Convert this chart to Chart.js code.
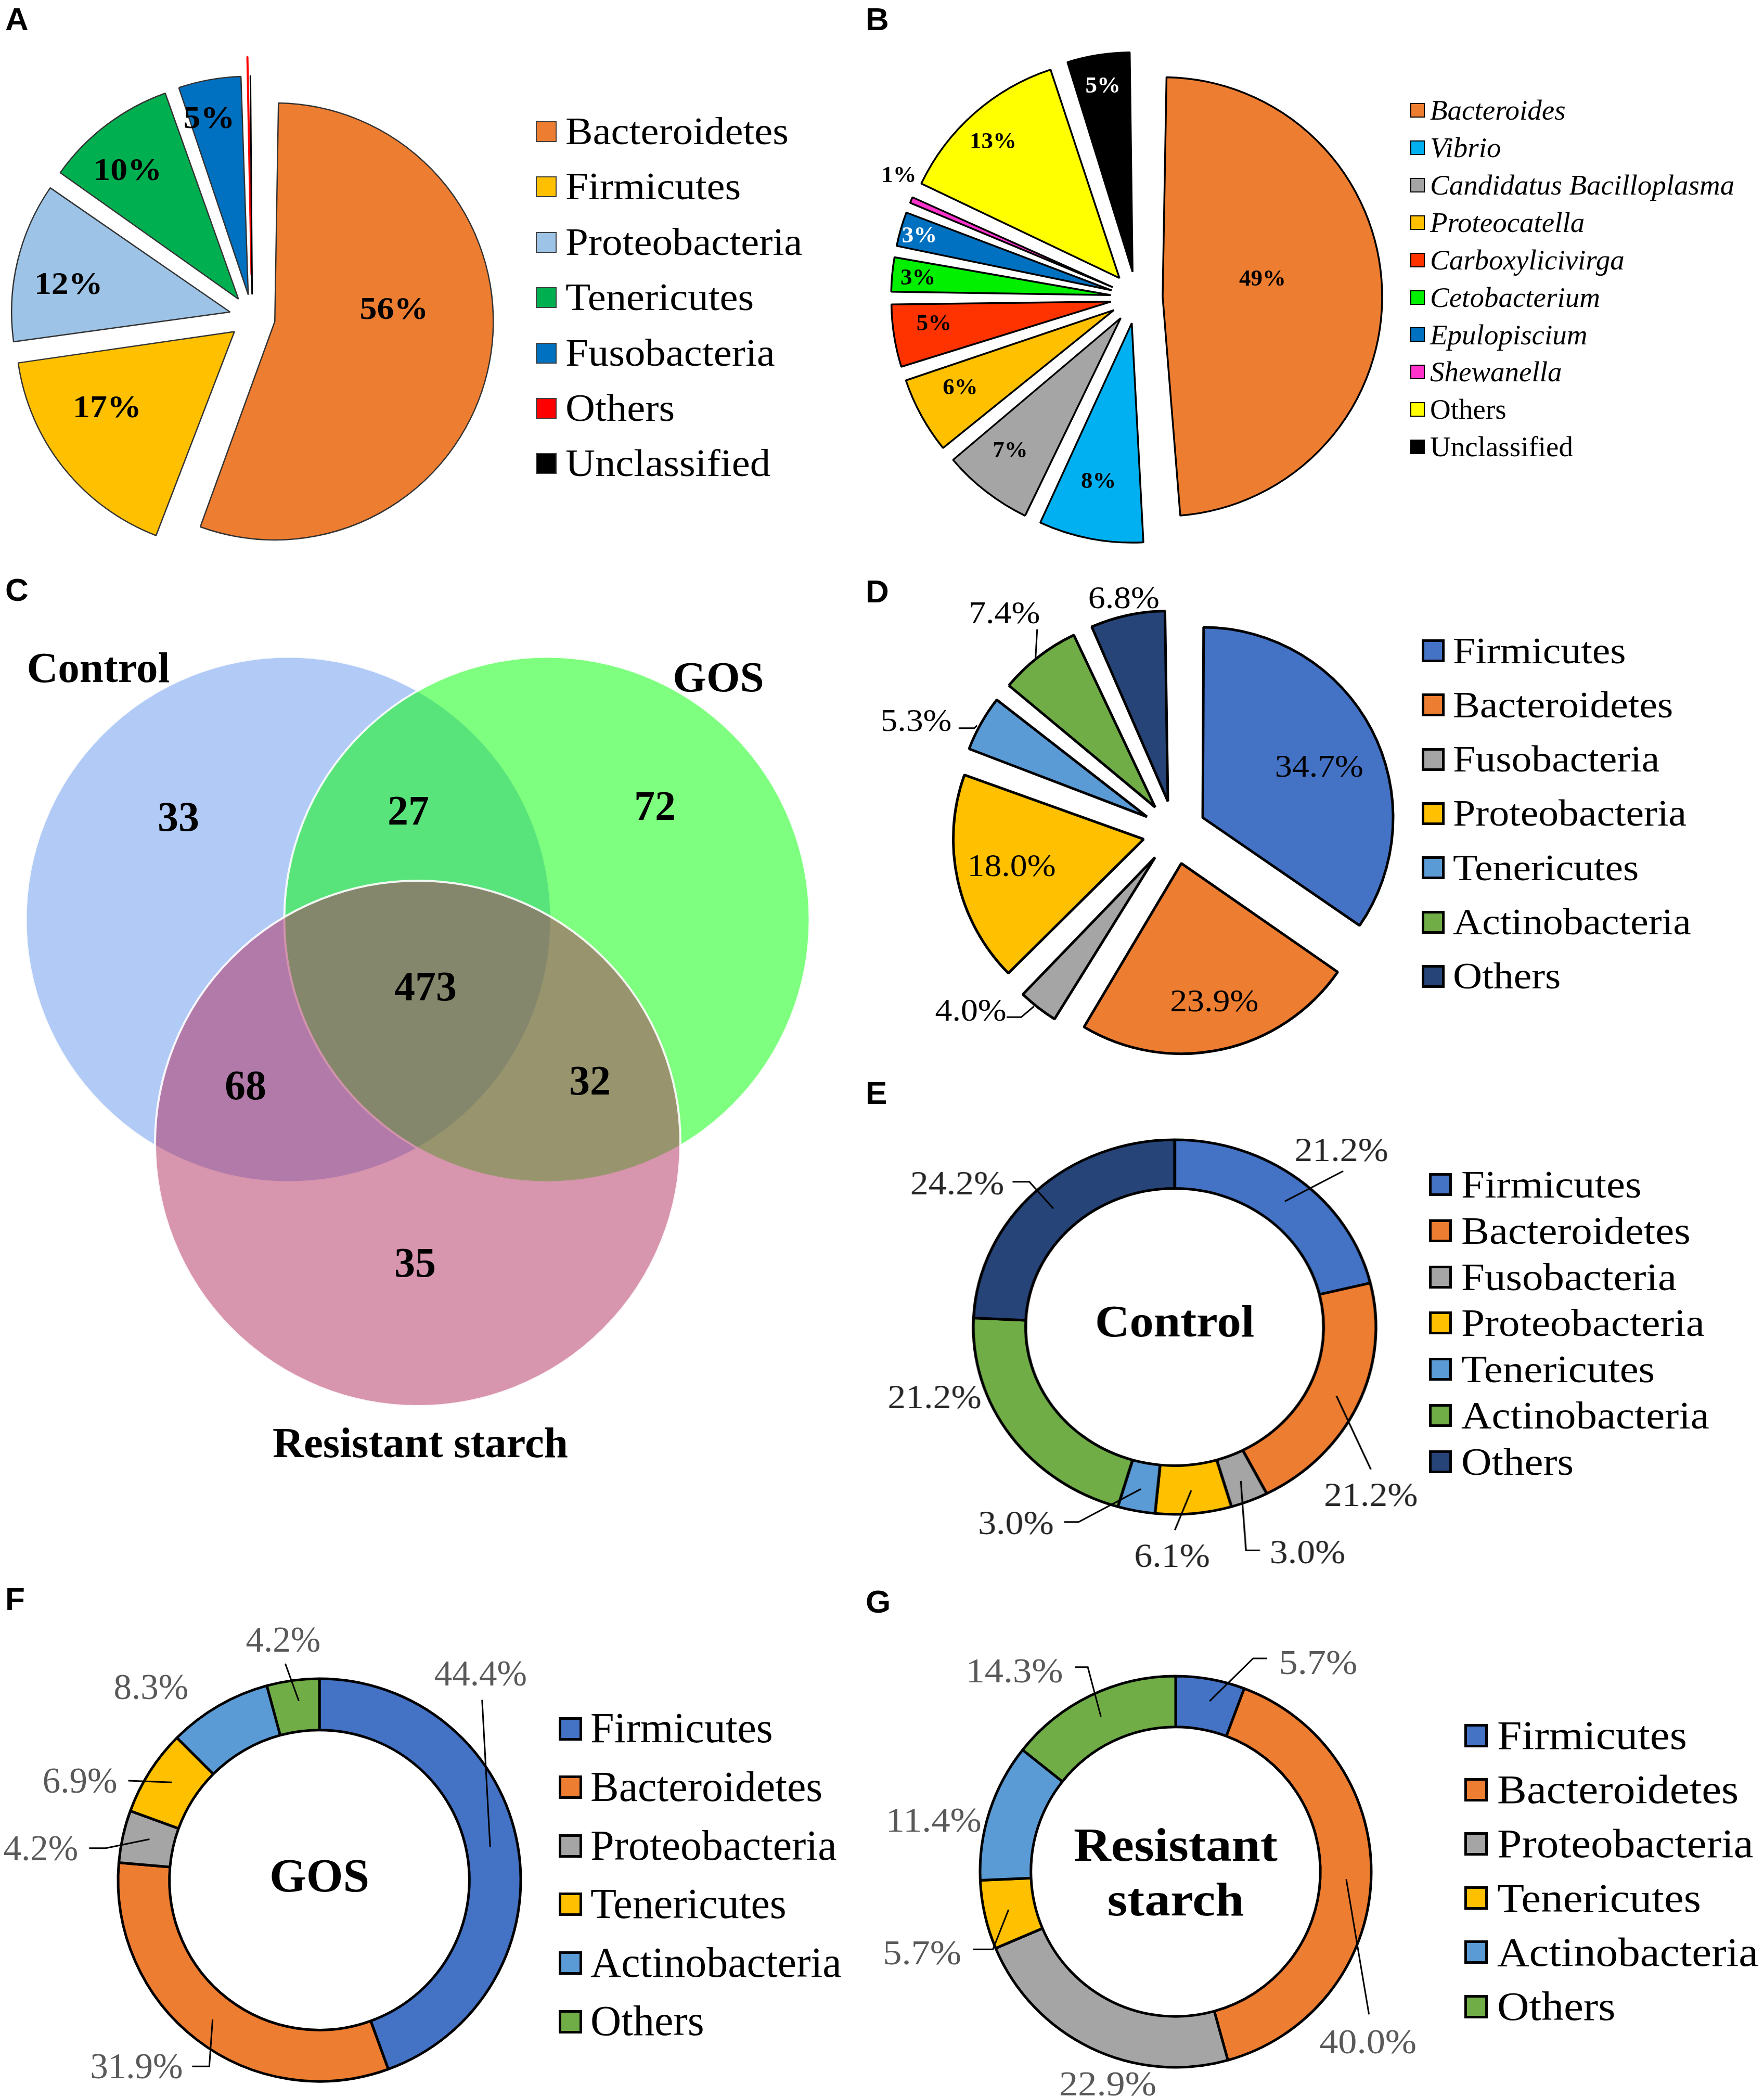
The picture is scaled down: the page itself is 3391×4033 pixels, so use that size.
<!DOCTYPE html>
<html><head><meta charset="utf-8">
<script src="https://cdn.jsdelivr.net/npm/chart.js@4.4.1/dist/chart.umd.min.js"></script>
<style>
html,body{margin:0;padding:0;background:#fff;}
body{width:3391px;height:4033px;position:relative;overflow:hidden;}
canvas{position:absolute;}
.t{position:absolute;white-space:nowrap;line-height:1;z-index:5;}
.box{position:absolute;box-sizing:border-box;z-index:5;}
</style></head><body>
<script>
// ================= DATA =================
// Panel A – phylum level (%)
const phylaA  = ['Bacteroidetes','Firmicutes','Proteobacteria','Tenericutes','Fusobacteria','Others','Unclassified'];
const valuesA = [56, 17, 12, 10, 5, 0.1, 0.25];
const colorsA = ['#ED7D31','#FFC000','#9DC3E6','#00B050','#0070C0','#FF0000','#000000'];

// Panel B – genus level (%)
const generaB = ['Bacteroides','Vibrio','Candidatus Bacilloplasma','Proteocatella','Carboxylicivirga','Cetobacterium','Epulopiscium','Shewanella','Others','Unclassified'];
const valuesB = [49, 8, 7, 6, 5, 3, 3, 1, 13, 5];
const colorsB = ['#ED7D31','#00B0F0','#A5A5A5','#FFC000','#FF3300','#00F000','#0070C0','#FF33CC','#FFFF00','#000000'];
const italicB = [true,true,true,true,true,true,true,true,false,false];

// Panel C – Venn diagram counts
const vennSets    = ['Control','GOS','Resistant starch'];
const vennRegions = ['Control only','Control & GOS','GOS only','All three','Control & Resistant starch','GOS & Resistant starch','Resistant starch only'];
const vennCounts  = [33, 27, 72, 473, 68, 32, 35];
const vennColors  = ['rgba(100,149,237,0.5)','rgba(0,255,0,0.5)','rgba(177,43,93,0.5)'];

// Panels D/E – phyla
const phylaDE  = ['Firmicutes','Bacteroidetes','Fusobacteria','Proteobacteria','Tenericutes','Actinobacteria','Others'];
const valuesD  = [34.7, 23.9, 4.0, 18.0, 5.3, 7.4, 6.8];
const valuesE  = [21.2, 21.2, 3.0, 6.1, 3.0, 21.2, 24.2];
const colorsDE = ['#4472C4','#ED7D31','#A5A5A5','#FFC000','#5B9BD5','#70AD47','#264478'];

// Panels F/G – phyla
const phylaFG  = ['Firmicutes','Bacteroidetes','Proteobacteria','Tenericutes','Actinobacteria','Others'];
const valuesF  = [44.4, 31.9, 4.2, 6.9, 8.3, 4.2];
const valuesG  = [5.7, 40.0, 22.9, 5.7, 11.4, 14.3];
const colorsFG = ['#4472C4','#ED7D31','#A5A5A5','#FFC000','#5B9BD5','#70AD47'];

// ================= HELPERS =================
const SERIF = "'Liberation Serif','Times New Roman',serif";
const SANS  = "'Liberation Sans',Arial,sans-serif";

function drawText(ctx, txt, x, y, o) {
  ctx.save();
  ctx.font = (o.italic ? 'italic ' : '') + (o.bold ? 'bold ' : '') + o.size + 'px ' + SERIF;
  ctx.fillStyle = o.color || '#000';
  ctx.textAlign = 'center';
  ctx.textBaseline = 'alphabetic';
  ctx.translate(x, y);
  ctx.scale(o.k || 1, 1);
  ctx.fillText(txt, 0, 0.331 * o.size);
  ctx.restore();
}

function addText(txt, x, yC, o) {
  const d = document.createElement('div');
  d.className = 't';
  d.textContent = txt;
  d.style.fontFamily = o.family || SERIF;
  d.style.fontSize = o.size + 'px';
  d.style.fontWeight = o.bold ? 'bold' : 'normal';
  d.style.fontStyle = o.italic ? 'italic' : 'normal';
  d.style.color = o.color || '#000';
  d.style.left = x + 'px';
  d.style.top = (yC - o.size * (o.cc || 0.5065)) + 'px';
  if (o.k && o.k !== 1) { d.style.transform = 'scaleX(' + o.k + ')'; d.style.transformOrigin = 'left center'; }
  document.body.appendChild(d);
}

function buildLegend(names, colors, L) {
  names.forEach((n, i) => {
    const yc = L.y0 + i * L.dy;
    const b = document.createElement('div');
    b.className = 'box';
    b.style.left = L.boxX + 'px';
    b.style.top = (yc - L.box / 2) + 'px';
    b.style.width = L.box + 'px';
    b.style.height = L.box + 'px';
    b.style.background = colors[i];
    b.style.border = L.bw + 'px solid ' + L.bc;
    document.body.appendChild(b);
    addText(n, L.textX, yc, {size: L.size, k: L.k, italic: L.italic ? L.italic[i] : false});
  });
}

function makeCanvas(left, top, w, h, extra) {
  const c = document.createElement('canvas');
  c.width = w; c.height = h;
  c.style.left = left + 'px'; c.style.top = top + 'px';
  c.style.width = w + 'px'; c.style.height = h + 'px';
  if (extra) Object.assign(c.style, extra);
  document.body.appendChild(c);
  return c;
}

// plugin factory: exploded-slice radius fix + slice labels / leader lines / centre text
function labelPlugin(spec) {
  return {
    id: 'sliceLabels',
    beforeDatasetDraw(chart, args) {
      const meta = args.meta;
      const base = meta.controller.outerRadius;
      meta.data.forEach(arc => {
        const off = (arc.options.offset || 0) / 4;
        if (off) {
          const fix = 1 - Math.sin(Math.min(Math.PI, arc.circumference || 0));
          arc.outerRadius = base - off * fix;
        }
      });
    },
    afterDatasetsDraw(chart) {
      const meta = chart.getDatasetMeta(0);
      const R = meta.controller.outerRadius;
      const ctx = chart.ctx;
      const vals = chart.data.datasets[0].data;
      spec.items.forEach((s, i) => {
        if (!s) return;
        const arc = meta.data[i];
        const mid = (arc.startAngle + arc.endAngle) / 2;
        const pol = (r, da) => {
          const a = mid + da * Math.PI / 180;
          return [arc.x + r * R * Math.cos(a), arc.y + r * R * Math.sin(a)];
        };
        const [x, y] = pol(s.r, s.da || 0);
        if (s.lead) {
          ctx.save();
          ctx.strokeStyle = spec.leadColor || '#000';
          ctx.lineWidth = spec.leadWidth || 3;
          ctx.beginPath();
          s.lead.forEach((p, j) => { if (j) ctx.lineTo(x + p[0], y + p[1]); else ctx.moveTo(x + p[0], y + p[1]); });
          const e = pol(s.end[0], s.end[1]);
          ctx.lineTo(e[0], e[1]);
          ctx.stroke();
          ctx.restore();
        }
        const txt = vals[i].toFixed(spec.decimals) + '%';
        drawText(ctx, txt, x, y, Object.assign({}, spec.font, s.color ? {color: s.color} : {}));
      });
      if (spec.center) {
        const a0 = meta.data[0];
        spec.center.lines.forEach((ln, j) =>
          drawText(ctx, ln, a0.x, a0.y + spec.center.dy[j], {bold: true, size: spec.center.size, k: spec.center.k || 1}));
      }
    }
  };
}

function pieChart(canvas, type, labels, values, colors, opt, spec) {
  return new Chart(canvas, {
    type: type,
    data: {labels: labels, datasets: [{
      data: values, backgroundColor: colors,
      borderColor: opt.borderColor, borderWidth: opt.borderWidth,
      offset: opt.offset || 0
    }]},
    options: {
      responsive: false, animation: false, events: [],
      radius: opt.radius, cutout: opt.cutout || 0,
      layout: {padding: 0},
      plugins: {legend: {display: false}, tooltip: {enabled: false}}
    },
    plugins: [labelPlugin(spec)]
  });
}

// ================= PANEL LETTERS =================
[['A',13,14],['B',1667,14],['C',13,1111],['D',1667,1114],['E',1667,2078],['F',13,3051],['G',1667,3056]]
  .forEach(p => addText(p[0], p[1] - 3, p[2] + 22, {family: SANS, bold: true, size: 62, cc: 0.4885}));

// ================= PANEL A =================
{
  const c = makeCanvas(5, 90, 960, 1040);
  pieChart(c, 'pie', phylaA, valuesA, colorsA,
    {radius: 420, borderColor: ['#333','#333','#333','#333','#333','#FF0000','#000'], borderWidth: [2.5,2.5,2.5,2.5,2.5,4,3],
     offset: [176,176,176,176,176,324,176]},
    {decimals: 0, font: {bold: true, size: 61, k: 1.08},
     items: [{r:0.65,da:-14},{r:0.78,da:7},{r:0.855,da:-3},{r:0.886,da:-3},{r:0.935,da:-2},null,null]});
  buildLegend(phylaA, colorsA, {boxX:1030, box:40, bw:2, bc:'#404040', textX:1087, y0:253, dy:106.4, size:73, k:1.08});
}

// ================= PANEL B =================
{
  const c = makeCanvas(1665, 32, 1040, 1080);
  pieChart(c, 'pie', generaB, valuesB, colorsB,
    {radius: 422, borderColor: '#000', borderWidth: 3.5, offset: 200},
    {decimals: 0, font: {bold: true, size: 45},
     items: [{r:0.58,da:-7},{r:0.85,da:1},{r:0.90,da:2},{r:0.90,da:2},{r:0.93,da:2},
             {r:1.0,da:0},{r:1.03,da:0,color:'#fff'},{r:1.22,da:4},{r:0.97,da:-1},{r:0.98,da:0,color:'#fff'}]});
  buildLegend(generaB, colorsB, {boxX:2711, box:28, bw:2, bc:'#000', textX:2749, y0:212, dy:71.9, size:55, k:1, italic: italicB});
}

// ================= PANEL C (Venn) =================
{
  const c = makeCanvas(0, 1180, 1680, 1660);
  const vennLayout = {cx: 8.03, cy: 7.31, side: 4.97, radius: 5.05};
  const dirs = [210, 330, 90];
  const dist = vennLayout.side / Math.sqrt(3);
  const centers = dirs.map(a => ({x: vennLayout.cx + dist * Math.cos(a * Math.PI / 180),
                                  y: vennLayout.cy + dist * Math.sin(a * Math.PI / 180),
                                  r: 1}));
  const countPos = [[3.43,3.91],[7.85,3.79],[12.59,3.70],[8.18,7.17],[4.72,9.07],[11.34,8.98],[7.98,12.48]];
  const setPos = [[1.89,1.04],[13.81,1.22],[8.08,15.94]];
  const vennText = {
    id: 'vennText',
    afterDatasetsDraw(chart) {
      const xs = chart.scales.x, ys = chart.scales.y, ctx = chart.ctx;
      vennCounts.forEach((n, i) => drawText(ctx, String(n), xs.getPixelForValue(countPos[i][0]), ys.getPixelForValue(countPos[i][1]), {bold: true, size: 80}));
      vennSets.forEach((n, i) => drawText(ctx, n, xs.getPixelForValue(setPos[i][0]), ys.getPixelForValue(setPos[i][1]), {bold: true, size: 83}));
    }
  };
  const venn = new Chart(c, {
    type: 'bubble',
    data: {labels: vennSets, datasets: [{
      data: centers,
      backgroundColor: vennColors,
      borderColor: 'rgba(255,255,255,0.9)',
      borderWidth: 4,
      clip: false
    }]},
    options: {
      responsive: false, animation: false, events: [],
      layout: {padding: 0, autoPadding: false},
      scales: {
        x: {type: 'linear', min: 0, max: 16.8, display: false},
        y: {type: 'linear', min: 0, max: 16.6, reverse: true, display: false}
      },
      plugins: {legend: {display: false}, tooltip: {enabled: false}}
    },
    plugins: [vennText]
  });
  // circle radius (data units) converted to pixels through the x scale
  const xs = venn.scales.x;
  const rPix = xs.getPixelForValue(vennLayout.radius) - xs.getPixelForValue(0);
  venn.data.datasets[0].data.forEach(d => { d.r = rPix; });
  venn.update();
}

// ================= PANEL D =================
{
  const c = makeCanvas(1698, 1080, 1120, 1040);
  pieChart(c, 'pie', phylaDE, valuesD, colorsDE,
    {radius: 366, borderColor: '#000', borderWidth: 5, offset: 244},
    {decimals: 1, font: {size: 61, k: 1.08},
     items: [{r:0.835,da:3},{r:0.91,da:-1},
             {r:1.42,da:11,lead:[[69,14],[97,14]],end:[1.175,1]},
             {r:0.874,da:1},
             {r:1.48,da:-6,lead:[[82,15],[112,15]],end:[1.18,-1]},
             {r:1.46,da:0,lead:[[63,32]],end:[1.167,-1]},
             {r:1.26,da:0}]});
  buildLegend(phylaDE, colorsDE, {boxX:2733, box:44, bw:5, bc:'#000', textX:2793, y0:1251, dy:104.3, size:72, k:1.08});
}

// ================= PANEL E =================
{
  const c = makeCanvas(1718, 2051, 1080, 1000, {transform: 'scaleX(1.075)', transformOrigin: '50% 50%'});
  pieChart(c, 'doughnut', phylaDE, valuesE, colorsDE,
    {radius: 360, cutout: '74%', borderColor: '#000', borderWidth: 5},
    {decimals: 1, font: {size: 65, color: '#262626'},
     items: [{r:1.258,da:3,lead:[[3,41]],end:[0.866,1]},
             {r:1.324,da:18,lead:[[0,-49]],end:[0.884,0]},
             {r:1.37,da:-7,lead:[[-85,-3],[-110,-3]],end:[0.885,0]},
             {r:1.22,da:6,lead:[[5,-49]],end:[0.876,0]},
             {r:1.31,da:26,lead:[[86,-2],[112,-2]],end:[0.881,0]},
             {r:1.25,da:18},
             {r:1.325,da:-11,lead:[[99,-3],[129,-3]],end:[0.874,0]}],
     center: {lines: ['Control'], size: 86, dy: [-10]}});
  buildLegend(phylaDE, colorsDE, {boxX:2747, box:44, bw:5, bc:'#000', textX:2809, y0:2277, dy:88.8, size:75, k:1.08});
}

// ================= PANEL F =================
{
  const c = makeCanvas(0, 3094, 1228, 1040);
  pieChart(c, 'doughnut', phylaFG, valuesF, colorsFG,
    {radius: 387, cutout: '74.5%', borderColor: '#000', borderWidth: 5},
    {decimals: 1, font: {size: 69, color: '#595959'},
     items: [{r:1.30,da:-42,lead:[[3,50]],end:[0.864,-1]},
             {r:1.297,da:7,lead:[[107,0],[140,0]],end:[0.872,0]},
             {r:1.393,da:-6,lead:[[93,0],[125,0]],end:[0.868,1]},
             {r:1.288,da:-10,lead:[[93,0]],end:[0.879,1]},
             {r:1.272,da:-11},
             {r:1.207,da:-1,lead:[[4,46]],end:[0.896,1]}],
     center: {lines: ['GOS'], size: 91, dy: [-8]}});
  buildLegend(phylaFG, colorsFG, {boxX:1074, box:45, bw:5, bc:'#000', textX:1135, y0:3323, dy:112.6, size:82, k:1});
}

// ================= PANEL G =================
{
  const c = makeCanvas(1700, 3128, 1120, 940);
  pieChart(c, 'doughnut', phylaFG, valuesG, colorsFG,
    {radius: 376, cutout: '74%', borderColor: '#000', borderWidth: 5},
    {decimals: 1, font: {size: 67, k: 1.08, color: '#595959'},
     items: [{r:1.294,da:24,lead:[[-98,-8],[-125,-8]],end:[0.889,1]},
             {r:1.313,da:39,lead:[[2,-53]],end:[0.873,0]},
             {r:1.139,da:-8},
             {r:1.361,da:-5,lead:[[98,-7],[136,-7]],end:[0.876,0]},
             {r:1.265,da:-6},
             {r:1.317,da:-13,lead:[[116,-7],[141,-7]],end:[0.880,0]}],
     center: {lines: ['Resistant', 'starch'], size: 92, dy: [-51, 54], k: 1.08}});
  buildLegend(phylaFG, colorsFG, {boxX:2815, box:45, bw:5, bc:'#000', textX:2878, y0:3336, dy:104.2, size:79, k:1.08});
}
</script>
</body></html>
